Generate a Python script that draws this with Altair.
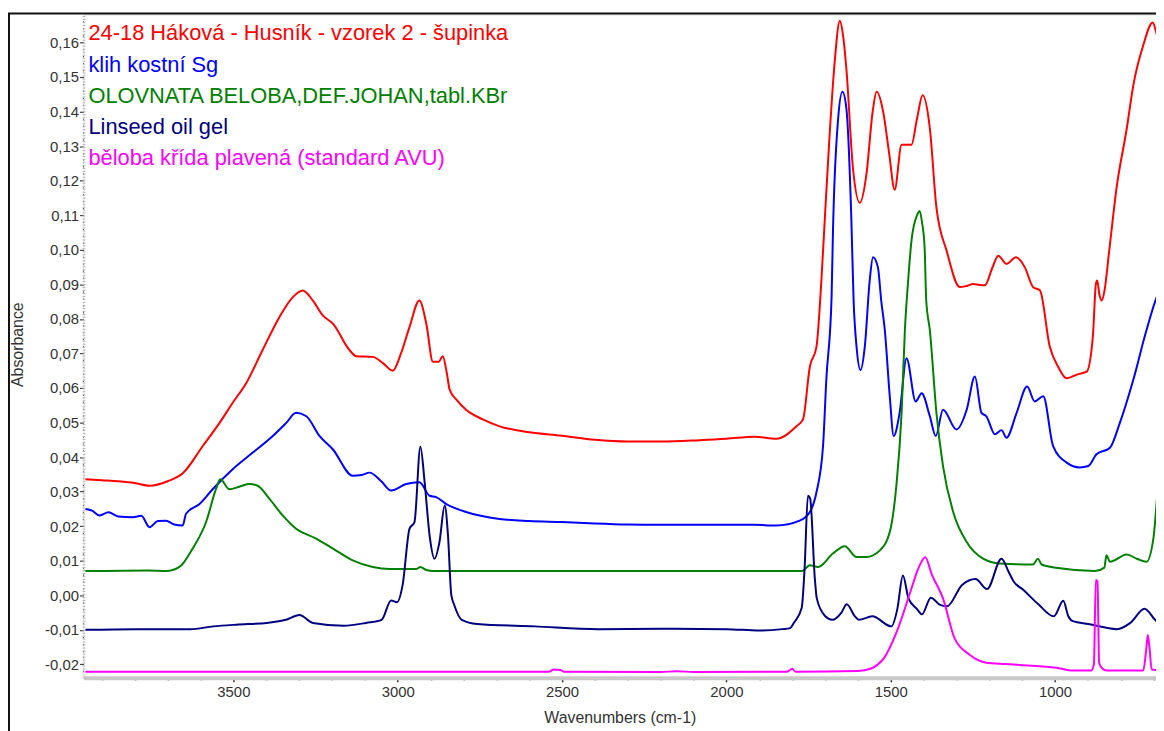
import altair as alt
import pandas as pd

# ---------------- data ----------------
series_names = [
    "24-18 Háková - Husník - vzorek 2 - šupinka",
    "klih kostní Sg",
    "OLOVNATA BELOBA,DEF.JOHAN,tabl.KBr",
    "Linseed oil gel",
    "běloba křída plavená (standard AVU)",
]
series_colors = ["#ff0000", "#0000ff", "#008000", "#000080", "#ff00ff"]

red_wn = [3950, 3900, 3850, 3800, 3755, 3700, 3654, 3593, 3542, 3500, 3461, 3411, 3360, 3319, 3289,
          3258, 3228, 3197, 3147, 3126, 3076, 3045, 3015, 2990, 2964, 2934, 2913, 2893, 2875, 2863,
          2850, 2842, 2820, 2792, 2741, 2690, 2600, 2500, 2400, 2300, 2200, 2081, 2000, 1914, 1848,
          1787, 1767, 1746, 1726, 1711, 1700, 1686, 1670, 1655, 1645, 1635, 1615, 1594, 1574, 1555,
          1543, 1523, 1505, 1488, 1467, 1437, 1420, 1403, 1381, 1361, 1330, 1290, 1270, 1249, 1230,
          1214, 1190, 1173, 1148, 1119, 1092, 1067, 1046, 1016, 990, 965, 930, 904, 885, 876,
          872, 865, 858, 850, 835, 813, 782, 762, 732, 703, 689, 676, 669]
red_abs = [0.0336, 0.0333, 0.0330, 0.0325, 0.0317, 0.0330, 0.0353, 0.0432, 0.0499, 0.0560, 0.0614, 0.0710, 0.0805, 0.0863, 0.0882,
           0.0853, 0.0810, 0.0786, 0.0710, 0.0692, 0.0690, 0.0672, 0.0650, 0.0700, 0.0777, 0.0853, 0.0786, 0.0676, 0.0676, 0.0692,
           0.0640, 0.0595, 0.0565, 0.0537, 0.0509, 0.0489, 0.0472, 0.0462, 0.0450, 0.0445, 0.0445, 0.0449, 0.0453, 0.0459, 0.0453,
           0.0489, 0.0509, 0.0662, 0.0719, 0.0911, 0.1100, 0.1332, 0.1550, 0.1663, 0.1620, 0.1524, 0.1236, 0.1136, 0.1218, 0.1400,
           0.1457, 0.1399, 0.1280, 0.1174, 0.1304, 0.1304, 0.1380, 0.1447, 0.1351, 0.1122, 0.0997, 0.0892, 0.0895, 0.0901, 0.0898,
           0.0897, 0.0950, 0.0983, 0.0959, 0.0978, 0.0949, 0.0892, 0.0882, 0.0719, 0.0660, 0.0628, 0.0640, 0.0647, 0.0750, 0.0900,
           0.0911, 0.0870, 0.0853, 0.0880, 0.1000, 0.1179, 0.1351, 0.1476, 0.1591, 0.1658, 0.1620, 0.1605, 0.1600]

blue_wn = [3950, 3930, 3907, 3880, 3850, 3806, 3780, 3755, 3730, 3705, 3680, 3654, 3644, 3603, 3563,
           3502, 3441, 3380, 3339, 3309, 3278, 3238, 3197, 3137, 3110, 3086, 3050, 3020, 2974, 2934,
           2903, 2883, 2852, 2792, 2690, 2600, 2500, 2400, 2300, 2200, 2081, 1919, 1848, 1777, 1746,
           1726, 1706, 1696, 1680, 1676, 1660, 1647, 1635, 1620, 1613, 1604, 1592, 1579, 1564, 1554,
           1539, 1529, 1518, 1503, 1491, 1473, 1452, 1424, 1406, 1381, 1363, 1341, 1300, 1269, 1244,
           1224, 1209, 1183, 1163, 1148, 1117, 1085, 1062, 1036, 1006, 965, 925, 899, 874, 833,
           803, 762, 722, 681, 672]
blue_abs = [0.0250, 0.0245, 0.0231, 0.0240, 0.0228, 0.0226, 0.0230, 0.0197, 0.0215, 0.0216, 0.0205, 0.0202, 0.0236, 0.0264, 0.0307,
            0.0365, 0.0413, 0.0461, 0.0499, 0.0528, 0.0518, 0.0461, 0.0422, 0.0346, 0.0348, 0.0355, 0.0330, 0.0303, 0.0322, 0.0327,
            0.0288, 0.0284, 0.0264, 0.0241, 0.0221, 0.0215, 0.0212, 0.0208, 0.0205, 0.0204, 0.0204, 0.0204, 0.0202, 0.0216, 0.0241,
            0.0298, 0.0432, 0.0624, 0.0863, 0.1045, 0.1380, 0.1457, 0.1409, 0.1093, 0.0853, 0.0719, 0.0652, 0.0719, 0.0911, 0.0978,
            0.0949, 0.0853, 0.0767, 0.0576, 0.0461, 0.0528, 0.0686, 0.0561, 0.0585, 0.0518, 0.0461, 0.0537, 0.0480, 0.0537, 0.0633,
            0.0528, 0.0518, 0.0466, 0.0478, 0.0456, 0.0528, 0.0604, 0.0561, 0.0576, 0.0432, 0.0384, 0.0370, 0.0374, 0.0408, 0.0427,
            0.0499, 0.0624, 0.0767, 0.0882, 0.0890]

green_wn = [3950, 3760, 3705, 3664, 3624, 3583, 3553, 3540, 3512, 3480, 3451, 3426, 3390, 3350, 3310,
            3248, 3197, 3137, 3076, 3025, 2944, 2931, 2915, 2890, 1770, 1746, 1721, 1676, 1640, 1604,
            1574, 1533, 1503, 1483, 1467, 1457, 1447, 1437, 1420, 1412, 1405, 1397, 1392, 1381, 1361,
            1341, 1310, 1269, 1219, 1168, 1067, 1052, 1041, 985, 879, 850, 844, 833, 782, 750,
            722, 701, 690, 683, 676, 671]
green_abs = [0.0070, 0.0072, 0.0070, 0.0082, 0.0135, 0.0212, 0.0307, 0.0336, 0.0307, 0.0315, 0.0322, 0.0317, 0.0279, 0.0231, 0.0193,
             0.0164, 0.0135, 0.0101, 0.0082, 0.0076, 0.0076, 0.0082, 0.0074, 0.0070, 0.0070, 0.0087, 0.0082, 0.0121, 0.0142, 0.0111,
             0.0111, 0.0130, 0.0183, 0.0317, 0.0528, 0.0767, 0.0911, 0.1026, 0.1100, 0.1112, 0.1080, 0.1007, 0.0853, 0.0767, 0.0528,
             0.0374, 0.0241, 0.0154, 0.0106, 0.0092, 0.0089, 0.0106, 0.0089, 0.0078, 0.0070, 0.0080, 0.0116, 0.0097, 0.0118, 0.0105,
             0.0097, 0.0164, 0.0280, 0.0360, 0.0200, 0.0126]

navy_wn = [3950, 3800, 3631, 3561, 3491, 3398, 3340, 3299, 3258, 3165, 3096, 3049, 3020, 3002, 2985,
           2964, 2949, 2931, 2918, 2903, 2888, 2873, 2857, 2847, 2837, 2828, 2805, 2758, 2583, 2390,
           2200, 2000, 1900, 1830, 1806, 1795, 1771, 1762, 1752, 1745, 1731, 1725, 1700, 1678, 1650,
           1634, 1609, 1597, 1556, 1498, 1480, 1463, 1446, 1420, 1405, 1378, 1350, 1329, 1283, 1242,
           1207, 1163, 1140, 1126, 1097, 1050, 1004, 975, 960, 946, 899, 812, 771, 728, 696, 669]
navy_abs = [-0.0100, -0.0098, -0.0098, -0.0090, -0.0085, -0.0080, -0.0071, -0.0057, -0.0080, -0.0088, -0.0080, -0.0071, -0.0015, -0.0020, 0.0030,
            0.0193, 0.0212, 0.0430, 0.0327, 0.0173, 0.0106, 0.0154, 0.0260, 0.0173, 0.0001, -0.0028, -0.0071, -0.0083, -0.0090, -0.0098,
            -0.0097, -0.0098, -0.0102, -0.0098, -0.0095, -0.0080, -0.0037, 0.0080, 0.0288, 0.0279, 0.0049, -0.0009, -0.0060, -0.0071, -0.0050,
            -0.0026, -0.0061, -0.0071, -0.0061, -0.0090, -0.0040, 0.0057, -0.0009, -0.0040, -0.0055, -0.0007, -0.0028, -0.0032, 0.0030, 0.0047,
            0.0018, 0.0106, 0.0065, 0.0040, 0.0016, -0.0027, -0.0061, -0.0016, -0.0060, -0.0075, -0.0083, -0.0098, -0.0080, -0.0039, -0.0071, -0.0095]

magenta_wn = [3950, 2540, 2525, 2505, 2495, 2200, 2150, 2100, 1815, 1800, 1790, 1600, 1560, 1539, 1520,
              1481, 1440, 1415, 1395, 1375, 1341, 1306, 1260, 1209, 1150, 1107, 996, 945, 890, 882,
              876, 871, 866, 858, 843, 732, 722, 718, 713, 706, 669]
magenta_abs = [-0.0221, -0.0221, -0.0215, -0.0216, -0.0221, -0.0222, -0.0220, -0.0222, -0.0221, -0.0213, -0.0221, -0.0219, -0.0212, -0.0200, -0.0181,
               -0.0104, 0.0011, 0.0080, 0.0110, 0.0060, -0.0009, -0.0124, -0.0172, -0.0195, -0.0199, -0.0202, -0.0210, -0.0218, -0.0218, -0.0200,
               0.0044, 0.0040, -0.0195, -0.0210, -0.0218, -0.0218, -0.0150, -0.0115, -0.0150, -0.0215, -0.0218]

x_tick_values = list(range(700, 4000, 100))
y_tick_values = [round(i * 0.002, 3) for i in range(-11, 84)]

# ---------------- build tables ----------------
frames = []
for name, wn, ab in zip(series_names,
                        [red_wn, blue_wn, green_wn, navy_wn, magenta_wn],
                        [red_abs, blue_abs, green_abs, navy_abs, magenta_abs]):
    frames.append(pd.DataFrame({"wn": wn, "abs": ab, "series": name}))
df = pd.concat(frames, ignore_index=True)

legend_df = pd.DataFrame({"series": series_names, "idx": list(range(len(series_names)))})

color_scale = alt.Scale(domain=series_names, range=series_colors)

W, H = 1080, 668

x_enc = alt.X(
    "wn:Q",
    scale=alt.Scale(domain=[693, 3956], reverse=True, nice=False, zero=False),
    axis=alt.Axis(
        title="Wavenumbers (cm-1)",
        values=x_tick_values,
        labelExpr="datum.value % 500 == 0 ? format(datum.value, 'd') : ''",
        labelOverlap=False,
        grid=False,
        domainColor="#c8c8c8",
        domainWidth=4,
        tickColor="#333333",
        tickWidth=1.5,
        tickSize={"condition": {"test": "datum.value % 500 == 0", "value": 4}, "value": 2},
        labelPadding=3,
        labelFontSize=15,
        labelColor="#333333",
        labelFont="Liberation Sans",
        titleFont="Liberation Sans",
        titleFontSize=16,
        titleFontWeight="normal",
        titleColor="#333333",
        titleY=40,
        titleBaseline="middle",
    ),
)
y_enc = alt.Y(
    "abs:Q",
    scale=alt.Scale(domain=[-0.0239, 0.1681], nice=False, zero=False),
    axis=alt.Axis(
        title="Absorbance",
        values=y_tick_values,
        labelExpr="abs(datum.value*100 - round(datum.value*100)) < 0.001 ? replace(replace(format(datum.value, '.2f'), '.', ','), '\u2212', '-') : ''",
        labelOverlap=False,
        grid=False,
        domainColor="#bbbbbb",
        domainWidth=3,
        domainDash=[1, 2],
        tickColor="#444444",
        tickWidth=1.2,
        tickSize={"condition": {"test": "abs(datum.value*100 - round(datum.value*100)) < 0.001", "value": 4}, "value": 1},
        labelPadding=1,
        labelFontSize=15,
        labelColor="#333333",
        labelFont="Liberation Sans",
        titleFont="Liberation Sans",
        titleFontSize=16,
        titleFontWeight="normal",
        titleColor="#333333",
        titleX=-66,
        titleY=332,
        titleAngle=-90,
        titleAlign="center",
        titleBaseline="middle",
    ),
)

lines = alt.Chart(df).mark_line(strokeWidth=2, clip=True, interpolate="monotone").encode(
    x=x_enc,
    y=y_enc,
    color=alt.Color("series:N", scale=color_scale, legend=None),
    detail="series:N",
)

legend_text = alt.Chart(legend_df).transform_calculate(
    ypix="19 + 31.5 * datum.idx"
).mark_text(align="left", baseline="middle", font="Liberation Sans", fontSize=22).encode(
    x=alt.value(5),
    y=alt.Y("ypix:Q", scale=None),
    text="series:N",
    color=alt.Color("series:N", scale=color_scale, legend=None),
)

frame_df = pd.DataFrame({"k": [0]})
frame_left = alt.Chart(frame_df).mark_rule(color="#111111", strokeWidth=2).encode(
    x=alt.value(-75), y=alt.value(-1), y2=alt.value(H + 60)
)
frame_top = alt.Chart(frame_df).mark_rule(color="#111111", strokeWidth=2).encode(
    x=alt.value(-76), x2=alt.value(W), y=alt.value(-1)
)

chart = alt.layer(lines, legend_text, frame_left, frame_top).properties(
    width=W,
    height=H,
    autosize=alt.AutoSizeParams(type="none"),
    padding={"left": 76, "top": 4, "right": 0, "bottom": 51},
    background="white",
).configure_view(stroke=None).configure(font="Liberation Sans")

chart.save("out.html", embed_options={"renderer": "svg", "actions": False})
